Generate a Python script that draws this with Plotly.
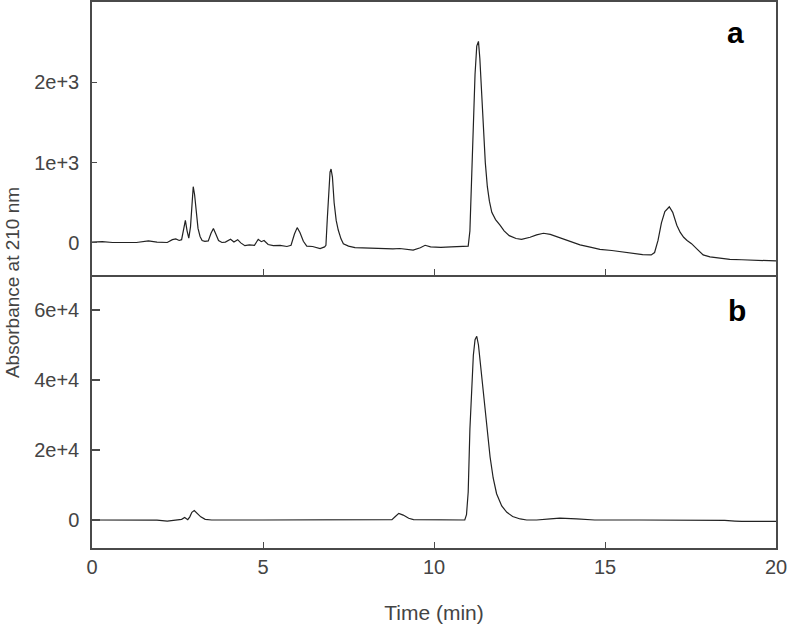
import plotly.graph_objects as go

# Panel a: time (min) and absorbance
time_a = [0.0, 0.3, 0.6, 1.0, 1.3, 1.65, 1.9, 2.2, 2.35, 2.45, 2.55, 2.62, 2.68, 2.73, 2.78, 2.83,
          2.88, 2.92, 2.96, 3.0, 3.05, 3.1, 3.16, 3.22, 3.3, 3.4, 3.48, 3.55, 3.62, 3.7, 3.8, 3.9,
          4.05, 4.15, 4.26, 4.35, 4.47, 4.6, 4.75, 4.86, 4.95, 5.03, 5.15, 5.3, 5.5, 5.7, 5.82,
          5.92, 6.0, 6.08, 6.18, 6.28, 6.45, 6.67, 6.8, 6.84, 6.88, 6.92, 6.96, 6.99, 7.03, 7.08,
          7.14, 7.2, 7.28, 7.35, 7.5, 7.69, 8.0, 8.4, 8.8, 9.0, 9.39, 9.6, 9.74, 9.9, 10.2, 10.5,
          10.8, 11.0, 11.05, 11.1, 11.15, 11.2, 11.25, 11.3, 11.34, 11.39, 11.44, 11.5, 11.56,
          11.62, 11.69, 11.8, 11.93, 12.05, 12.2, 12.4, 12.56, 12.7, 12.81, 13.0, 13.2, 13.4,
          13.68, 14.0, 14.27, 14.6, 14.85, 15.2, 15.5, 15.83, 16.1, 16.35, 16.45, 16.55, 16.65,
          16.75, 16.88, 16.98, 17.1, 17.2, 17.3, 17.4, 17.53, 17.7, 17.87, 18.07, 18.3, 18.65,
          19.0, 19.4, 19.7, 20.0]
abs_a = [10, 15, 5, 0, 5, 25, 10, 5, 40, 50, 30, 40, 180, 280, 150, 60,
         200, 500, 700, 600, 350, 180, 80, 30, 20, 25, 120, 180, 110, 30, 5, 10,
         45, 10, 40, 0, -35, -25, -30, 45, 15, 30, -20, -35, -30, -45, -30,
         110, 190, 130, 20, -40, -45, -70, -50, -30, 300, 650, 880, 920, 820, 500,
         280, 160, 50, -10, -40, -60, -65, -70, -75, -70, -90, -60, -30, -50, -55, -50,
         -45, -40, 150, 780, 1500, 2100, 2450, 2510, 2300, 1850, 1400, 1000, 700,
         520, 380, 290, 220, 150, 90, 55, 45, 55, 70, 100, 120, 105,
         65, 20, -25, -55, -80, -95, -112, -130, -145, -150, -120, 30, 250,
         390, 450, 380, 220, 130, 70, 30, -10, -80, -150, -175, -190, -205,
         -210, -215, -215, -225]

# Panel b
time_b = [0.0, 1.2, 1.35, 1.5, 1.7, 1.9, 2.2, 2.5, 2.62, 2.71, 2.8, 2.86, 2.92, 2.99, 3.08, 3.18,
          3.31, 3.5, 5.0, 7.0, 8.6, 8.77, 8.87, 8.97, 9.1, 9.26, 9.4, 10.0, 10.9, 10.95, 11.0,
          11.05, 11.1, 11.15, 11.2, 11.25, 11.3, 11.35, 11.44, 11.54, 11.64, 11.73, 11.83, 11.98,
          12.13, 12.3, 12.52, 12.71, 13.0, 13.4, 13.68, 14.17, 14.7, 16.0, 18.0, 18.2, 18.5,
          18.8, 19.0, 20.0]
abs_b = [0, 0, -150, 0, -200, -50, -300, 0, 200, 700, 100, 900, 2200, 2700, 1800, 900,
         200, 0, 0, 0, 0, 100, 1000, 1900, 1400, 500, 100, 0, 0, 1500, 8000,
         26000, 38000, 47000, 51500, 52500, 50000, 45000, 37000, 27000, 18000, 12000, 7500, 4000,
         2200, 1000, 300, 0, 0, 300, 550, 300, 0, 0, 0, -200, -100,
         -300, -400, -400]

x_ticks = [0, 5, 10, 15, 20]
ya_ticks = [0, 1000, 2000]
ya_labels = ["0", "1e+3", "2e+3"]
yb_ticks = [0, 20000, 40000, 60000]
yb_labels = ["0", "2e+4", "4e+4", "6e+4"]

FONT = "Liberation Sans, Arial, sans-serif"
AX = "#4a4a4a"
TXT = "#444444"

fig = go.Figure()
fig.add_trace(go.Scatter(x=time_a, y=abs_a, mode="lines", xaxis="x2", yaxis="y2",
                         line=dict(color="#222222", width=1.2), showlegend=False))
fig.add_trace(go.Scatter(x=time_b, y=abs_b, mode="lines", xaxis="x", yaxis="y",
                         line=dict(color="#222222", width=1.2), showlegend=False))

common_x = dict(range=[0, 20], tickvals=x_ticks, ticks="inside", ticklen=6, tickcolor=AX,
                showline=True, linecolor=AX, linewidth=1.5, showgrid=False,
                zeroline=False, automargin=False)

fig.update_layout(
    width=787, height=626,
    margin=dict(l=92, r=11, t=2, b=78),
    plot_bgcolor="white", paper_bgcolor="white",
    font=dict(family=FONT, size=20, color=TXT),
    xaxis=dict(**common_x, domain=[0, 1], anchor="y", mirror=False,
               ticktext=[str(v) for v in x_ticks], ticklabeloverflow="allow",
               tickfont=dict(size=20, color=TXT),
               title=dict(text="Time (min)", font=dict(size=21, color=TXT), standoff=29)),
    xaxis2=dict(**common_x, domain=[0, 1], anchor="y2", matches="x", mirror=True,
                showticklabels=False),
    yaxis=dict(domain=[0, 0.5], anchor="x", range=[-8000, 70000],
               tickvals=yb_ticks, ticktext=yb_labels, ticks="inside", ticklen=8, tickwidth=2,
               tickcolor=AX, showline=True, linecolor=AX, linewidth=1.5, mirror=True,
               showgrid=False, zeroline=False, tickfont=dict(size=20, color=TXT),
               ticklabelstandoff=7, automargin=False),
    yaxis2=dict(domain=[0.5, 1], anchor="x2", range=[-400, 3000],
                tickvals=ya_ticks, ticktext=ya_labels, ticks="inside", ticklen=5,
                tickcolor=AX, showline=True, linecolor=AX, linewidth=1.5, mirror=True,
                showgrid=False, zeroline=False, tickfont=dict(size=20, color=TXT),
                ticklabelstandoff=7, automargin=False),
    annotations=[
        dict(text="a", x=0.9415, y=0.944, xref="paper", yref="paper", showarrow=False,
             xanchor="center", yanchor="middle",
             font=dict(size=30, color="black", family=FONT, weight="bold")),
        dict(text="b", x=0.9425, y=0.4341, xref="paper", yref="paper", showarrow=False,
             xanchor="center", yanchor="middle",
             font=dict(size=30, color="black", family=FONT, weight="bold")),
        dict(text="Absorbance at 210 nm", x=-0.117, y=0.487, xref="paper", yref="paper",
             showarrow=False, textangle=-90, xanchor="center", yanchor="middle",
             font=dict(size=19, color=TXT, family=FONT)),
    ],
)

fig.write_html("out.html", config={"displayModeBar": False},
               post_script="document.body.style.margin='0';")
